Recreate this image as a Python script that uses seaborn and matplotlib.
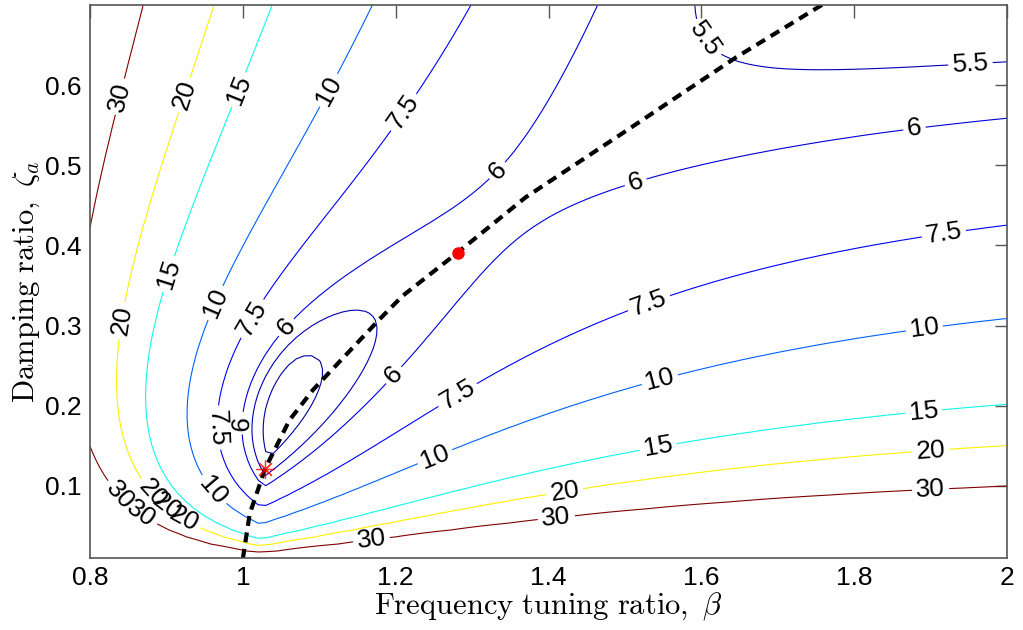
import numpy as np
import seaborn as sns
import matplotlib
matplotlib.use("Agg")
import matplotlib.pyplot as plt

# grid of the design plane
beta_lim = (0.8, 2.0)
zeta_lim = (0.01, 0.7)
n_beta, n_zeta = 121, 80
levels = [5, 5.5, 6, 7.5, 10, 15, 20, 30]

# absorber model (damper to ground): mass ratio, damping scaling with tuning
mass_ratio = 0.085
damp_exp = 0.32

# locus drawn as dashed line
locus_beta = [1.0, 1.009, 1.029, 1.061, 1.092, 1.179, 1.209, 1.281, 1.37, 1.5, 1.646, 1.761]
locus_zeta = [0.009, 0.065, 0.121, 0.182, 0.22, 0.308, 0.337, 0.391, 0.46, 0.542, 0.635, 0.702]

opt_point = (1.029, 0.121)
design_point = (1.281, 0.391)

# where the contour labels sit
label_pos = [
    (0.82, 0.59), (0.84, 0.03), (1.17, 0.02), (1.41, 0.062), (1.90, 0.096),
    (0.90, 0.595), (0.815, 0.31), (0.83, 0.08), (1.42, 0.10), (1.90, 0.15),
    (0.98, 0.60), (0.885, 0.37), (0.86, 0.072), (1.545, 0.14), (1.89, 0.2),
    (1.10, 0.60), (0.96, 0.33), (0.89, 0.077), (1.55, 0.217), (1.89, 0.31),
    (1.19, 0.58), (1.01, 0.31), (0.927, 0.065), (1.25, 0.14), (1.536, 0.316), (1.915, 0.43),
    (1.06, 0.295), (1.306, 0.518), (1.523, 0.45), (1.875, 0.575), (1.267, 0.236),
    (0.975, 0.173), (1.2, 0.236), (0.95, 0.085), (1.575, 0.64), (1.95, 0.665),
    (1.005, 0.178),
]


def peak_response(beta, zeta, mu, q):
    w = np.linspace(0.3, 3.0, 3000)[None, :]
    out = np.zeros((len(zeta), len(beta)))
    for j, z in enumerate(zeta):
        f = beta[:, None]
        k2 = mu * f**2
        c2 = 2 * z * mu * f**q
        d11 = 1 + k2 - w**2
        d22 = k2 - mu * w**2 + 1j * w * c2
        x1 = d22 / (d11 * d22 - k2**2)
        out[j] = np.abs(x1).max(axis=1)
    return out


sns.set_theme(style="white")
plt.rcParams["font.family"] = ["Liberation Sans", "DejaVu Sans"]
plt.rcParams["mathtext.fontset"] = "cm"

beta = np.linspace(*beta_lim, n_beta)
zeta = np.linspace(*zeta_lim, n_zeta)
H = peak_response(beta, zeta, mass_ratio, damp_exp)

fig = plt.figure(figsize=(10.23, 6.3), dpi=100)
ax = fig.add_axes([90 / 1023, 72 / 630, 917 / 1023, 553 / 630])

jet = plt.get_cmap("jet")
line_colors = [jet(t) for t in [0.03, 0.05, 0.08, 0.12, 0.22, 0.37, 0.655, 1.0]]
cs = ax.contour(beta, zeta, H, levels=levels, colors=line_colors, linewidths=0.8)
ax.clabel(cs, fmt=lambda v: f"{v:g}", fontsize=19, colors="black",
          inline=True, inline_spacing=4, manual=label_pos)

sns.lineplot(x=locus_beta, y=locus_zeta, sort=False, ax=ax, color="black",
             linewidth=3, linestyle=(0, (2.4, 1.6)))
ax.plot(*opt_point, marker=(8, 2, 0), color="red", markersize=13,
        markeredgewidth=0.9, alpha=0.8)
ax.plot(*design_point, marker="o", color="red", markersize=8)

ax.set_xlim(*beta_lim)
ax.set_ylim(*zeta_lim)
ax.set_xticks([0.8, 1.0, 1.2, 1.4, 1.6, 1.8, 2.0])
ax.set_xticklabels(["0.8", "1", "1.2", "1.4", "1.6", "1.8", "2"])
ax.set_yticks([0.1, 0.2, 0.3, 0.4, 0.5, 0.6])
ax.set_yticklabels(["0.1", "0.2", "0.3", "0.4", "0.5", "0.6"])
ax.tick_params(direction="in", length=9, width=1, color="#555555",
               labelsize=19, labelcolor="black", top=True, right=True, pad=6)
for s in ax.spines.values():
    s.set_color("#555555")
    s.set_linewidth(1.2)

ax.set_xlabel(r"$\mathrm{Frequency\ tuning\ ratio,}\ \beta$", fontsize=22,
              labelpad=0, color="black")
ax.set_ylabel(r"$\mathrm{Damping\ ratio,}\ \zeta_a$", fontsize=22,
              labelpad=2, color="black")

fig.savefig("out.png", dpi=100, facecolor="white")
